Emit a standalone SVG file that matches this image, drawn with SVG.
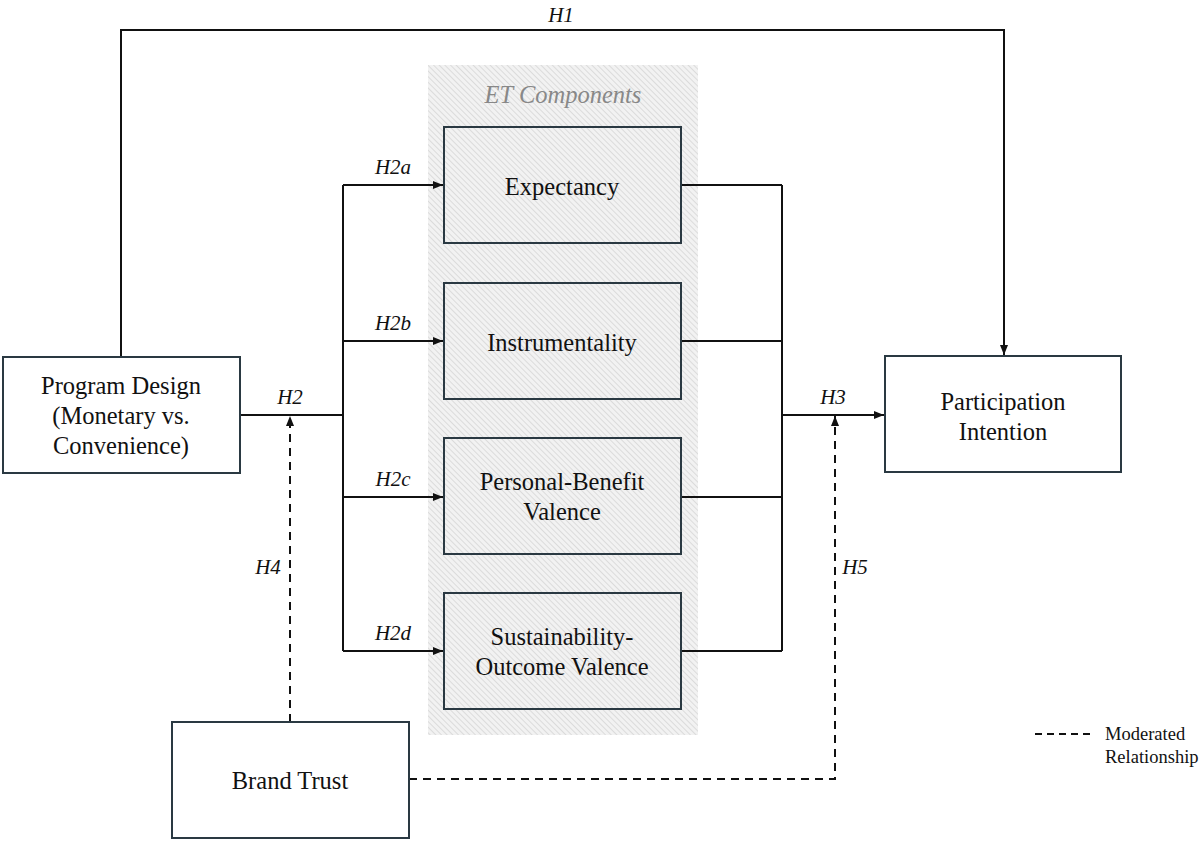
<svg xmlns="http://www.w3.org/2000/svg" width="1203" height="842" viewBox="0 0 1203 842">
<defs>
<pattern id="hatch" width="4" height="4" patternUnits="userSpaceOnUse" patternTransform="rotate(-45)">
<rect width="4" height="4" fill="#f2f2f2"/>
<line x1="0" y1="0" x2="0" y2="4" stroke="#cfcfcf" stroke-width="1.3"/>
</pattern>
<marker id="arr" viewBox="0 0 10 10" refX="10" refY="5" markerWidth="10" markerHeight="10" markerUnits="userSpaceOnUse" orient="auto">
<path d="M0,1 L10,5 L0,9 Z" fill="#111"/>
</marker>
</defs>
<style>
.box{fill:#fff;stroke:#2a3942;stroke-width:2}
.etbox{fill:none;stroke:#2a3942;stroke-width:2}
.t{font-family:"Liberation Serif","Times New Roman",serif;font-size:24.5px;fill:#111;text-anchor:middle}
.h{font-family:"Liberation Serif","Times New Roman",serif;font-size:21px;font-style:italic;fill:#111;text-anchor:middle}
.c{fill:none;stroke:#111;stroke-width:2}
.d{fill:none;stroke:#111;stroke-width:2;stroke-dasharray:8,6}
.lg{font-family:"Liberation Serif","Times New Roman",serif;font-size:18.5px;fill:#111}
</style>
<rect width="1203" height="842" fill="#fff"/>
<g id="et-panel">
<rect x="428" y="65" width="270" height="670" fill="url(#hatch)"/>
<text x="563" y="103" class="h" style="fill:#888;font-size:24.5px">ET Components</text>
</g>
<g id="connectors">
<polyline class="c" points="121,357 121,30 1004,30 1004,355" marker-end="url(#arr)"/>
<polyline class="c" points="240,415 343,415"/>
<line class="c" x1="343" y1="185" x2="343" y2="651"/>
<line class="c" x1="343" y1="185" x2="443" y2="185" marker-end="url(#arr)"/>
<line class="c" x1="343" y1="341" x2="443" y2="341" marker-end="url(#arr)"/>
<line class="c" x1="343" y1="497" x2="443" y2="497" marker-end="url(#arr)"/>
<line class="c" x1="343" y1="651" x2="443" y2="651" marker-end="url(#arr)"/>
<line class="c" x1="681" y1="185" x2="782" y2="185"/>
<line class="c" x1="681" y1="341" x2="782" y2="341"/>
<line class="c" x1="681" y1="497" x2="782" y2="497"/>
<line class="c" x1="681" y1="651" x2="782" y2="651"/>
<line class="c" x1="782" y1="185" x2="782" y2="651"/>
<line class="c" x1="782" y1="415" x2="884" y2="415" marker-end="url(#arr)"/>
<line class="d" x1="290" y1="722" x2="290" y2="416" marker-end="url(#arr)"/>
<polyline class="d" points="409,779 835,779 835,416" marker-end="url(#arr)"/>
<text x="561" y="22" class="h">H1</text>
<text x="290" y="404" class="h">H2</text>
<text x="393" y="174" class="h">H2a</text>
<text x="393" y="330" class="h">H2b</text>
<text x="393" y="486" class="h">H2c</text>
<text x="393" y="640" class="h">H2d</text>
<text x="833" y="404" class="h">H3</text>
<text x="268" y="574" class="h">H4</text>
<text x="855" y="574" class="h">H5</text>
</g>
<g id="program-design">
<rect class="box" x="3" y="357" width="237" height="116"/>
<text class="t" x="121" y="394">Program Design</text>
<text class="t" x="121" y="424">(Monetary vs.</text>
<text class="t" x="121" y="454">Convenience)</text>
</g>
<g id="expectancy">
<rect class="etbox" x="444" y="127" width="237" height="116"/>
<text class="t" x="562" y="195">Expectancy</text>
</g>
<g id="instrumentality">
<rect class="etbox" x="444" y="283" width="237" height="116"/>
<text class="t" x="562" y="351">Instrumentality</text>
</g>
<g id="personal-benefit">
<rect class="etbox" x="444" y="438" width="237" height="116"/>
<text class="t" x="562" y="490">Personal-Benefit</text>
<text class="t" x="562" y="520">Valence</text>
</g>
<g id="sustainability-outcome">
<rect class="etbox" x="444" y="593" width="237" height="116"/>
<text class="t" x="562" y="645">Sustainability-</text>
<text class="t" x="562" y="675">Outcome Valence</text>
</g>
<g id="participation-intention">
<rect class="box" x="885" y="356" width="236" height="116"/>
<text class="t" x="1003" y="410">Participation</text>
<text class="t" x="1003" y="440">Intention</text>
</g>
<g id="brand-trust">
<rect class="box" x="172" y="722" width="237" height="116"/>
<text class="t" x="290" y="789">Brand Trust</text>
</g>
<g id="legend">
<line class="d" x1="1035" y1="734" x2="1095" y2="734" style="stroke-dasharray:7,5"/>
<text class="lg" x="1105" y="740">Moderated</text>
<text class="lg" x="1105" y="763">Relationship</text>
</g>
</svg>
